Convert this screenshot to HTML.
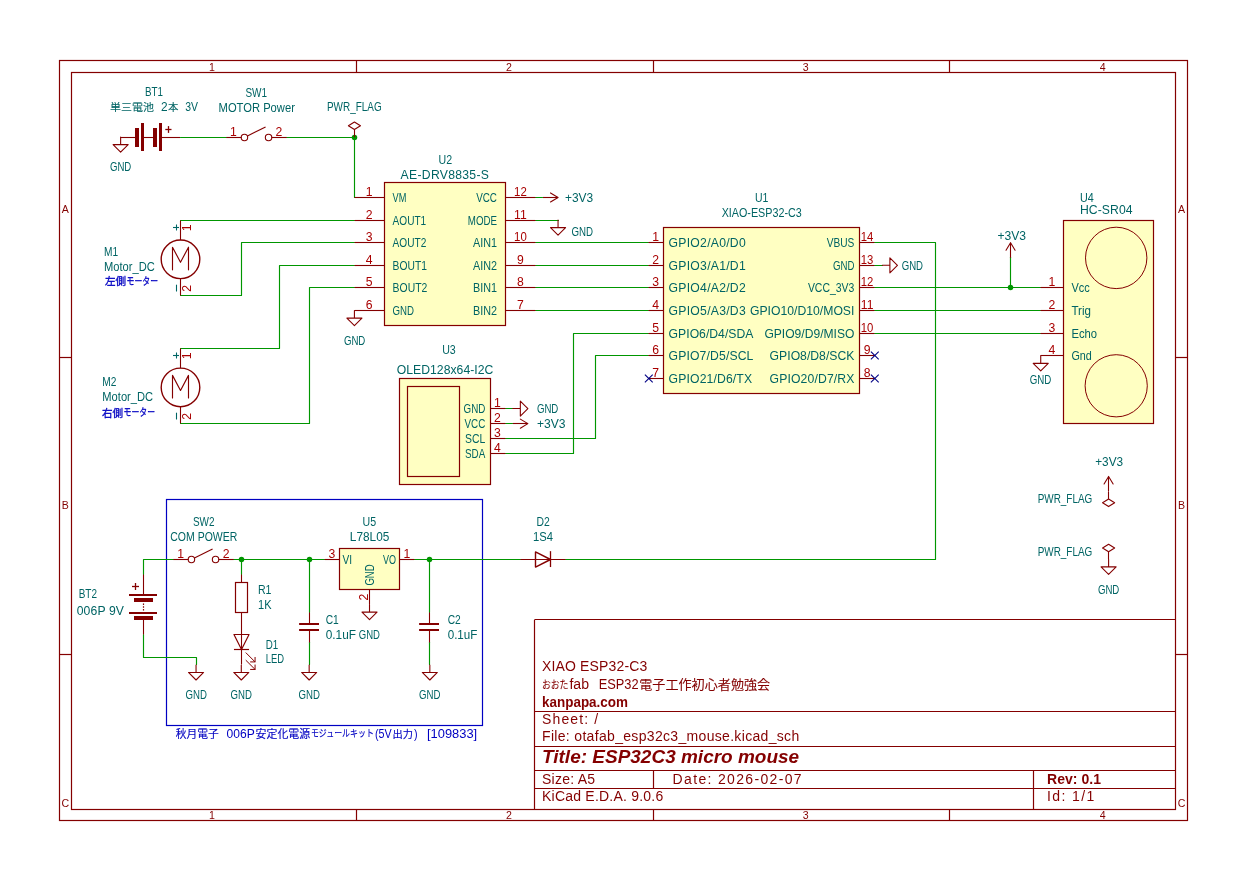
<!DOCTYPE html>
<html lang="ja">
<head>
<meta charset="utf-8">
<title>ESP32C3 micro mouse</title>
<style>
html,body{margin:0;padding:0;background:#fff;}
body{width:1245px;height:882px;overflow:hidden;}
svg{display:block;will-change:transform;}
svg text{font-family:"Liberation Sans","Noto Sans CJK JP",sans-serif;white-space:pre;}
</style>
</head>
<body>
<svg width="1245" height="882" viewBox="0 0 1245 882">
<rect x="59.50" y="60.50" width="1128.00" height="760.00" fill="none" stroke="#840000" stroke-width="1.2"/>
<rect x="71.50" y="72.50" width="1104.00" height="737.00" fill="none" stroke="#840000" stroke-width="1.2"/>
<line x1="356.50" y1="60.40" x2="356.50" y2="72.30" stroke="#840000" stroke-width="1.2" />
<line x1="356.50" y1="809.00" x2="356.50" y2="820.20" stroke="#840000" stroke-width="1.2" />
<line x1="653.50" y1="60.40" x2="653.50" y2="72.30" stroke="#840000" stroke-width="1.2" />
<line x1="653.50" y1="809.00" x2="653.50" y2="820.20" stroke="#840000" stroke-width="1.2" />
<line x1="949.50" y1="60.40" x2="949.50" y2="72.30" stroke="#840000" stroke-width="1.2" />
<line x1="949.50" y1="809.00" x2="949.50" y2="820.20" stroke="#840000" stroke-width="1.2" />
<line x1="59.40" y1="357.50" x2="71.30" y2="357.50" stroke="#840000" stroke-width="1.2" />
<line x1="1175.40" y1="357.50" x2="1187.70" y2="357.50" stroke="#840000" stroke-width="1.2" />
<line x1="59.40" y1="654.50" x2="71.30" y2="654.50" stroke="#840000" stroke-width="1.2" />
<line x1="1175.40" y1="654.50" x2="1187.70" y2="654.50" stroke="#840000" stroke-width="1.2" />
<text x="212.00" y="70.55" fill="#840000" font-size="10.6" text-anchor="middle">1</text>
<text x="212.00" y="818.75" fill="#840000" font-size="10.6" text-anchor="middle">1</text>
<text x="509.00" y="70.55" fill="#840000" font-size="10.6" text-anchor="middle">2</text>
<text x="509.00" y="818.75" fill="#840000" font-size="10.6" text-anchor="middle">2</text>
<text x="805.70" y="70.55" fill="#840000" font-size="10.6" text-anchor="middle">3</text>
<text x="805.70" y="818.75" fill="#840000" font-size="10.6" text-anchor="middle">3</text>
<text x="1102.70" y="70.55" fill="#840000" font-size="10.6" text-anchor="middle">4</text>
<text x="1102.70" y="818.75" fill="#840000" font-size="10.6" text-anchor="middle">4</text>
<text x="65.40" y="212.65" fill="#840000" font-size="10.6" text-anchor="middle">A</text>
<text x="1181.60" y="212.65" fill="#840000" font-size="10.6" text-anchor="middle">A</text>
<text x="65.40" y="509.35" fill="#840000" font-size="10.6" text-anchor="middle">B</text>
<text x="1181.60" y="509.35" fill="#840000" font-size="10.6" text-anchor="middle">B</text>
<text x="65.40" y="806.65" fill="#840000" font-size="10.6" text-anchor="middle">C</text>
<text x="1181.60" y="806.65" fill="#840000" font-size="10.6" text-anchor="middle">C</text>
<line x1="534.50" y1="619.50" x2="1175.40" y2="619.50" stroke="#840000" stroke-width="1.2" />
<line x1="534.50" y1="619.80" x2="534.50" y2="809.00" stroke="#840000" stroke-width="1.2" />
<line x1="534.50" y1="711.50" x2="1175.40" y2="711.50" stroke="#840000" stroke-width="1.2" />
<line x1="534.50" y1="746.50" x2="1175.40" y2="746.50" stroke="#840000" stroke-width="1.2" />
<line x1="534.50" y1="770.50" x2="1175.40" y2="770.50" stroke="#840000" stroke-width="1.2" />
<line x1="534.50" y1="788.50" x2="1175.40" y2="788.50" stroke="#840000" stroke-width="1.2" />
<line x1="653.50" y1="770.20" x2="653.50" y2="788.00" stroke="#840000" stroke-width="1.2" />
<line x1="1033.50" y1="770.20" x2="1033.50" y2="809.00" stroke="#840000" stroke-width="1.2" />
<text x="542.00" y="671.22" fill="#840000" font-size="14.0" textLength="105.30" lengthAdjust="spacing">XIAO ESP32-C3</text>
<text fill="#840000" font-size="14.0"><tspan x="542.00" y="688.80" font-size="11.4" textLength="26.40" lengthAdjust="spacingAndGlyphs" stroke="#840000" stroke-width="0.1">おおた</tspan><tspan x="569.40" y="688.60" font-size="14.0" textLength="19.60" lengthAdjust="spacingAndGlyphs">fab</tspan><tspan x="598.70" y="688.60" font-size="14.0" textLength="39.90" lengthAdjust="spacingAndGlyphs">ESP32</tspan><tspan x="639.20" y="688.60" font-size="12.6" textLength="131.00" lengthAdjust="spacingAndGlyphs" stroke="#840000" stroke-width="0.1">電子工作初心者勉強会</tspan></text>
<text x="542.00" y="706.60" fill="#840000" font-size="14.0" textLength="86.00" lengthAdjust="spacingAndGlyphs" font-weight="bold">kanpapa.com</text>
<text x="542.00" y="724.40" fill="#840000" font-size="14.0" textLength="56.20" lengthAdjust="spacing">Sheet: /</text>
<text x="542.00" y="740.50" fill="#840000" font-size="14.0" textLength="257.20" lengthAdjust="spacing">File: otafab_esp32c3_mouse.kicad_sch</text>
<text x="542.00" y="762.90" fill="#840000" font-size="19.0" textLength="257.20" lengthAdjust="spacingAndGlyphs" font-weight="bold" font-style="italic">Title: ESP32C3 micro mouse</text>
<text x="542.00" y="783.80" fill="#840000" font-size="14.0" textLength="53.00" lengthAdjust="spacing">Size: A5</text>
<text x="672.60" y="783.80" fill="#840000" font-size="14.0" textLength="129.00" lengthAdjust="spacing">Date: 2026-02-07</text>
<text x="542.00" y="800.70" fill="#840000" font-size="14.0" textLength="121.20" lengthAdjust="spacing">KiCad E.D.A. 9.0.6</text>
<text x="1047.00" y="783.80" fill="#840000" font-size="14.0" textLength="54.00" lengthAdjust="spacing" font-weight="bold">Rev: 0.1</text>
<text x="1047.00" y="800.70" fill="#840000" font-size="14.0" textLength="47.30" lengthAdjust="spacing">Id: 1/1</text>
<rect x="166.50" y="499.50" width="316.00" height="226.00" fill="none" stroke="#0000c2" stroke-width="1.2"/>
<text fill="#0000c2" font-size="12.2"><tspan x="175.80" y="737.60" font-size="10.8" textLength="43.00" lengthAdjust="spacingAndGlyphs" stroke="#0000c2" stroke-width="0.15">秋月電子</tspan><tspan x="226.60" y="737.60" font-size="12.2" textLength="28.20" lengthAdjust="spacingAndGlyphs">006P</tspan><tspan x="255.60" y="737.60" font-size="10.8" textLength="54.50" lengthAdjust="spacingAndGlyphs" stroke="#0000c2" stroke-width="0.15">安定化電源</tspan><tspan x="310.90" y="737.40" font-size="10.0" textLength="63.00" lengthAdjust="spacingAndGlyphs" stroke="#0000c2" stroke-width="0.15">モジュールキット</tspan><tspan x="374.90" y="737.60" font-size="12.2" textLength="16.70" lengthAdjust="spacingAndGlyphs">(5V</tspan><tspan x="392.40" y="737.60" font-size="10.6" textLength="20.50" lengthAdjust="spacingAndGlyphs" stroke="#0000c2" stroke-width="0.15">出力</tspan><tspan x="414.00" y="737.60" font-size="12.2" textLength="3.60" lengthAdjust="spacingAndGlyphs">)</tspan><tspan x="427.00" y="737.60" font-size="12.2" textLength="50.20" lengthAdjust="spacingAndGlyphs">[109833]</tspan></text>
<polyline points="180.50,137.50 226.50,137.50" fill="none" stroke="#009600" stroke-width="1.15" stroke-linejoin="round" stroke-linecap="round" />
<polyline points="286.50,137.50 354.50,137.50 354.50,197.50" fill="none" stroke="#009600" stroke-width="1.15" stroke-linejoin="round" stroke-linecap="round" />
<circle cx="354.50" cy="137.50" r="2.75" fill="#009600"/>
<polyline points="180.50,220.50 354.50,220.50" fill="none" stroke="#009600" stroke-width="1.15" stroke-linejoin="round" stroke-linecap="round" />
<polyline points="180.50,295.50 241.50,295.50 241.50,242.50 354.50,242.50" fill="none" stroke="#009600" stroke-width="1.15" stroke-linejoin="round" stroke-linecap="round" />
<polyline points="180.50,348.50 279.50,348.50 279.50,265.50 354.50,265.50" fill="none" stroke="#009600" stroke-width="1.15" stroke-linejoin="round" stroke-linecap="round" />
<polyline points="180.50,423.50 309.50,423.50 309.50,287.50 354.50,287.50" fill="none" stroke="#009600" stroke-width="1.15" stroke-linejoin="round" stroke-linecap="round" />
<polyline points="535.50,197.50 542.50,197.50" fill="none" stroke="#009600" stroke-width="1.15" stroke-linejoin="round" stroke-linecap="round" />
<polyline points="535.50,220.50 558.50,220.50" fill="none" stroke="#009600" stroke-width="1.15" stroke-linejoin="round" stroke-linecap="round" />
<polyline points="535.50,242.50 648.50,242.50" fill="none" stroke="#009600" stroke-width="1.15" stroke-linejoin="round" stroke-linecap="round" />
<polyline points="535.50,265.50 648.50,265.50" fill="none" stroke="#009600" stroke-width="1.15" stroke-linejoin="round" stroke-linecap="round" />
<polyline points="535.50,287.50 648.50,287.50" fill="none" stroke="#009600" stroke-width="1.15" stroke-linejoin="round" stroke-linecap="round" />
<polyline points="535.50,310.50 648.50,310.50" fill="none" stroke="#009600" stroke-width="1.15" stroke-linejoin="round" stroke-linecap="round" />
<polyline points="648.50,333.50 573.50,333.50 573.50,453.50 505.50,453.50" fill="none" stroke="#009600" stroke-width="1.15" stroke-linejoin="round" stroke-linecap="round" />
<polyline points="648.50,355.50 595.50,355.50 595.50,438.50 505.50,438.50" fill="none" stroke="#009600" stroke-width="1.15" stroke-linejoin="round" stroke-linecap="round" />
<polyline points="505.50,408.50 512.50,408.50" fill="none" stroke="#009600" stroke-width="1.15" stroke-linejoin="round" stroke-linecap="round" />
<polyline points="505.50,423.50 512.50,423.50" fill="none" stroke="#009600" stroke-width="1.15" stroke-linejoin="round" stroke-linecap="round" />
<polyline points="874.50,242.50 935.50,242.50 935.50,559.50 565.50,559.50" fill="none" stroke="#009600" stroke-width="1.15" stroke-linejoin="round" stroke-linecap="round" />
<polyline points="874.50,265.50 882.50,265.50" fill="none" stroke="#009600" stroke-width="1.15" stroke-linejoin="round" stroke-linecap="round" />
<polyline points="874.50,287.50 1040.50,287.50" fill="none" stroke="#009600" stroke-width="1.15" stroke-linejoin="round" stroke-linecap="round" />
<polyline points="874.50,310.50 1040.50,310.50" fill="none" stroke="#009600" stroke-width="1.15" stroke-linejoin="round" stroke-linecap="round" />
<polyline points="874.50,333.50 1040.50,333.50" fill="none" stroke="#009600" stroke-width="1.15" stroke-linejoin="round" stroke-linecap="round" />
<polyline points="1010.50,287.50 1010.50,257.50" fill="none" stroke="#009600" stroke-width="1.15" stroke-linejoin="round" stroke-linecap="round" />
<circle cx="1010.50" cy="287.50" r="2.75" fill="#009600"/>
<polyline points="143.50,574.50 143.50,559.50 173.50,559.50" fill="none" stroke="#009600" stroke-width="1.15" stroke-linejoin="round" stroke-linecap="round" />
<polyline points="233.50,559.50 324.50,559.50" fill="none" stroke="#009600" stroke-width="1.15" stroke-linejoin="round" stroke-linecap="round" />
<polyline points="241.50,559.50 241.50,574.50" fill="none" stroke="#009600" stroke-width="1.15" stroke-linejoin="round" stroke-linecap="round" />
<circle cx="241.50" cy="559.50" r="2.75" fill="#009600"/>
<polyline points="309.50,559.50 309.50,612.50" fill="none" stroke="#009600" stroke-width="1.15" stroke-linejoin="round" stroke-linecap="round" />
<circle cx="309.50" cy="559.50" r="2.75" fill="#009600"/>
<polyline points="309.50,642.50 309.50,664.50" fill="none" stroke="#009600" stroke-width="1.15" stroke-linejoin="round" stroke-linecap="round" />
<polyline points="414.50,559.50 520.50,559.50" fill="none" stroke="#009600" stroke-width="1.15" stroke-linejoin="round" stroke-linecap="round" />
<polyline points="429.50,559.50 429.50,612.50" fill="none" stroke="#009600" stroke-width="1.15" stroke-linejoin="round" stroke-linecap="round" />
<circle cx="429.50" cy="559.50" r="2.75" fill="#009600"/>
<polyline points="429.50,642.50 429.50,664.50" fill="none" stroke="#009600" stroke-width="1.15" stroke-linejoin="round" stroke-linecap="round" />
<polyline points="143.50,634.50 143.50,657.50 196.50,657.50 196.50,664.50" fill="none" stroke="#009600" stroke-width="1.15" stroke-linejoin="round" stroke-linecap="round" />
<line x1="120.50" y1="137.50" x2="135.50" y2="137.50" stroke="#840000" stroke-width="1.1" />
<line x1="142.50" y1="137.50" x2="154.00" y2="137.50" stroke="#840000" stroke-width="1.1" />
<line x1="160.50" y1="137.50" x2="180.00" y2="137.50" stroke="#840000" stroke-width="1.1" />
<line x1="137.00" y1="128.00" x2="137.00" y2="147.00" stroke="#840000" stroke-width="4.0" />
<line x1="155.00" y1="128.00" x2="155.00" y2="147.00" stroke="#840000" stroke-width="4.0" />
<line x1="142.50" y1="123.00" x2="142.50" y2="151.00" stroke="#840000" stroke-width="3.0" />
<line x1="160.50" y1="123.00" x2="160.50" y2="151.00" stroke="#840000" stroke-width="3.0" />
<line x1="165.30" y1="129.50" x2="171.50" y2="129.50" stroke="#840000" stroke-width="1.3" />
<line x1="168.50" y1="126.10" x2="168.50" y2="132.90" stroke="#840000" stroke-width="1.3" />
<polyline points="120.63,137.13 120.63,144.67 128.17,144.67 120.63,152.21 113.09,144.67 120.63,144.67" fill="none" stroke="#840000" stroke-width="1.1" stroke-linejoin="round" stroke-linecap="round" />
<text x="145.00" y="96.20" fill="#006464" font-size="12.2" textLength="18.00" lengthAdjust="spacingAndGlyphs">BT1</text>
<text fill="#006464" font-size="12.2"><tspan x="110.00" y="110.90" font-size="10.6" textLength="44.00" lengthAdjust="spacingAndGlyphs" stroke="#006464" stroke-width="0.1">単三電池</tspan><tspan x="161.10" y="110.90" font-size="12.2" textLength="6.60" lengthAdjust="spacingAndGlyphs">2</tspan><tspan x="167.90" y="110.90" font-size="10.4" textLength="10.40" lengthAdjust="spacingAndGlyphs" stroke="#006464" stroke-width="0.1">本</tspan><tspan x="185.20" y="110.90" font-size="12.2" textLength="12.80" lengthAdjust="spacingAndGlyphs">3V</tspan></text>
<text x="110.00" y="171.40" fill="#006464" font-size="12.2" textLength="21.30" lengthAdjust="spacingAndGlyphs">GND</text>
<line x1="226.34" y1="137.50" x2="241.42" y2="137.50" stroke="#840000" stroke-width="1.1" />
<line x1="286.66" y1="137.50" x2="271.58" y2="137.50" stroke="#840000" stroke-width="1.1" />
<circle cx="244.44" cy="137.50" r="3.22" fill="none" stroke="#840000" stroke-width="1.1"/>
<circle cx="268.56" cy="137.50" r="3.22" fill="none" stroke="#840000" stroke-width="1.1"/>
<line x1="247.45" y1="135.99" x2="265.55" y2="126.94" stroke="#840000" stroke-width="1.1" />
<text x="233.30" y="136.00" fill="#a90000" font-size="12.2" text-anchor="middle">1</text>
<text x="278.90" y="136.00" fill="#a90000" font-size="12.2" text-anchor="middle">2</text>
<text x="245.40" y="97.20" fill="#006464" font-size="12.2" textLength="21.60" lengthAdjust="spacingAndGlyphs">SW1</text>
<text x="218.60" y="112.30" fill="#006464" font-size="12.2" textLength="76.30" lengthAdjust="spacingAndGlyphs">MOTOR Power</text>
<line x1="354.50" y1="137.13" x2="354.50" y2="129.59" stroke="#840000" stroke-width="1.1" />
<polygon points="354.42,129.59 348.39,125.82 354.42,122.05 360.46,125.82" fill="none" stroke="#840000" stroke-width="1.1" stroke-linejoin="round" stroke-linecap="round" />
<text x="327.00" y="111.20" fill="#006464" font-size="12.2" textLength="54.60" lengthAdjust="spacingAndGlyphs">PWR_FLAG</text>
<rect x="384.50" y="182.50" width="121.00" height="143.00" fill="#ffffc2" stroke="#840000" stroke-width="1.2"/>
<line x1="354.50" y1="197.50" x2="384.40" y2="197.50" stroke="#840000" stroke-width="1.1" />
<line x1="505.70" y1="197.50" x2="535.50" y2="197.50" stroke="#840000" stroke-width="1.1" />
<text x="392.60" y="201.70" fill="#006464" font-size="12.2" textLength="13.80" lengthAdjust="spacingAndGlyphs">VM</text>
<text x="497.00" y="201.70" fill="#006464" font-size="12.2" text-anchor="end" textLength="20.80" lengthAdjust="spacingAndGlyphs">VCC</text>
<text x="369.20" y="196.40" fill="#a90000" font-size="12.2" text-anchor="middle">1</text>
<text x="520.40" y="196.40" fill="#a90000" font-size="12.2" text-anchor="middle" textLength="12.70" lengthAdjust="spacingAndGlyphs">12</text>
<line x1="354.50" y1="220.50" x2="384.40" y2="220.50" stroke="#840000" stroke-width="1.1" />
<line x1="505.70" y1="220.50" x2="535.50" y2="220.50" stroke="#840000" stroke-width="1.1" />
<text x="392.60" y="224.70" fill="#006464" font-size="12.2" textLength="33.60" lengthAdjust="spacingAndGlyphs">AOUT1</text>
<text x="497.00" y="224.70" fill="#006464" font-size="12.2" text-anchor="end" textLength="29.20" lengthAdjust="spacingAndGlyphs">MODE</text>
<text x="369.20" y="219.40" fill="#a90000" font-size="12.2" text-anchor="middle">2</text>
<text x="520.40" y="219.40" fill="#a90000" font-size="12.2" text-anchor="middle" textLength="12.70" lengthAdjust="spacing">11</text>
<line x1="354.50" y1="242.50" x2="384.40" y2="242.50" stroke="#840000" stroke-width="1.1" />
<line x1="505.70" y1="242.50" x2="535.50" y2="242.50" stroke="#840000" stroke-width="1.1" />
<text x="392.60" y="246.70" fill="#006464" font-size="12.2" textLength="33.70" lengthAdjust="spacingAndGlyphs">AOUT2</text>
<text x="497.00" y="246.70" fill="#006464" font-size="12.2" text-anchor="end" textLength="24.00" lengthAdjust="spacingAndGlyphs">AIN1</text>
<text x="369.20" y="241.40" fill="#a90000" font-size="12.2" text-anchor="middle">3</text>
<text x="520.40" y="241.40" fill="#a90000" font-size="12.2" text-anchor="middle" textLength="12.70" lengthAdjust="spacingAndGlyphs">10</text>
<line x1="354.50" y1="265.50" x2="384.40" y2="265.50" stroke="#840000" stroke-width="1.1" />
<line x1="505.70" y1="265.50" x2="535.50" y2="265.50" stroke="#840000" stroke-width="1.1" />
<text x="392.60" y="269.70" fill="#006464" font-size="12.2" textLength="34.30" lengthAdjust="spacingAndGlyphs">BOUT1</text>
<text x="497.00" y="269.70" fill="#006464" font-size="12.2" text-anchor="end" textLength="24.00" lengthAdjust="spacingAndGlyphs">AIN2</text>
<text x="369.20" y="264.40" fill="#a90000" font-size="12.2" text-anchor="middle">4</text>
<text x="520.40" y="264.40" fill="#a90000" font-size="12.2" text-anchor="middle">9</text>
<line x1="354.50" y1="287.50" x2="384.40" y2="287.50" stroke="#840000" stroke-width="1.1" />
<line x1="505.70" y1="287.50" x2="535.50" y2="287.50" stroke="#840000" stroke-width="1.1" />
<text x="392.60" y="291.70" fill="#006464" font-size="12.2" textLength="34.70" lengthAdjust="spacingAndGlyphs">BOUT2</text>
<text x="497.00" y="291.70" fill="#006464" font-size="12.2" text-anchor="end" textLength="24.00" lengthAdjust="spacingAndGlyphs">BIN1</text>
<text x="369.20" y="286.40" fill="#a90000" font-size="12.2" text-anchor="middle">5</text>
<text x="520.40" y="286.40" fill="#a90000" font-size="12.2" text-anchor="middle">8</text>
<line x1="354.50" y1="310.50" x2="384.40" y2="310.50" stroke="#840000" stroke-width="1.1" />
<line x1="505.70" y1="310.50" x2="535.50" y2="310.50" stroke="#840000" stroke-width="1.1" />
<text x="392.60" y="314.70" fill="#006464" font-size="12.2" textLength="21.50" lengthAdjust="spacingAndGlyphs">GND</text>
<text x="497.00" y="314.70" fill="#006464" font-size="12.2" text-anchor="end" textLength="24.00" lengthAdjust="spacingAndGlyphs">BIN2</text>
<text x="369.20" y="309.40" fill="#a90000" font-size="12.2" text-anchor="middle">6</text>
<text x="520.40" y="309.40" fill="#a90000" font-size="12.2" text-anchor="middle">7</text>
<text x="438.60" y="164.10" fill="#006464" font-size="12.2" textLength="13.60" lengthAdjust="spacingAndGlyphs">U2</text>
<text x="400.60" y="178.80" fill="#006464" font-size="12.2" textLength="88.30" lengthAdjust="spacing">AE-DRV8835-S</text>
<polyline points="354.42,310.55 354.42,318.09 361.96,318.09 354.42,325.63 346.88,318.09 354.42,318.09" fill="none" stroke="#840000" stroke-width="1.1" stroke-linejoin="round" stroke-linecap="round" />
<text x="354.60" y="344.80" fill="#006464" font-size="12.2" text-anchor="middle" textLength="21.40" lengthAdjust="spacingAndGlyphs">GND</text>
<line x1="542.97" y1="197.50" x2="558.05" y2="197.50" stroke="#840000" stroke-width="1.1" />
<polyline points="550.51,192.93 558.05,197.45 550.51,201.97" fill="none" stroke="#840000" stroke-width="1.1" stroke-linejoin="round" stroke-linecap="round" />
<text x="565.00" y="201.80" fill="#006464" font-size="12.2" textLength="28.20" lengthAdjust="spacingAndGlyphs">+3V3</text>
<polyline points="558.05,220.07 558.05,227.61 565.59,227.61 558.05,235.15 550.51,227.61 558.05,227.61" fill="none" stroke="#840000" stroke-width="1.1" stroke-linejoin="round" stroke-linecap="round" />
<text x="571.40" y="236.10" fill="#006464" font-size="12.2" textLength="21.60" lengthAdjust="spacingAndGlyphs">GND</text>
<line x1="180.50" y1="220.50" x2="180.50" y2="239.98" stroke="#840000" stroke-width="1.1" />
<line x1="180.50" y1="278.58" x2="180.50" y2="295.50" stroke="#840000" stroke-width="1.1" />
<circle cx="180.50" cy="259.28" r="19.30" fill="none" stroke="#840000" stroke-width="1.4"/>
<polyline points="172.50,269.83 172.50,247.21 180.50,262.29 188.50,247.21 188.50,269.83" fill="none" stroke="#840000" stroke-width="1.15" stroke-linejoin="round" stroke-linecap="round" />
<line x1="173.00" y1="227.50" x2="179.00" y2="227.50" stroke="#006464" stroke-width="1.1" />
<line x1="176.50" y1="224.50" x2="176.50" y2="230.50" stroke="#006464" stroke-width="1.1" />
<line x1="176.50" y1="284.70" x2="176.50" y2="291.50" stroke="#006464" stroke-width="1.1" />
<text x="186.40" y="232.00" fill="#a90000" font-size="12.2" text-anchor="middle" transform="rotate(-90 186.40 227.80)">1</text>
<text x="186.40" y="292.50" fill="#a90000" font-size="12.2" text-anchor="middle" transform="rotate(-90 186.40 288.30)">2</text>
<text x="104.00" y="256.00" fill="#006464" font-size="12.2" textLength="14.10" lengthAdjust="spacingAndGlyphs">M1</text>
<text x="104.00" y="270.80" fill="#006464" font-size="12.2" textLength="50.80" lengthAdjust="spacingAndGlyphs">Motor_DC</text>
<text fill="#0000c2" font-size="12.2"><tspan x="105.00" y="285.20" font-size="10.4" textLength="21.10" lengthAdjust="spacingAndGlyphs" stroke="#0000c2" stroke-width="0.3">左側</tspan><tspan x="126.60" y="285.00" font-size="10.0" textLength="31.40" lengthAdjust="spacingAndGlyphs" stroke="#0000c2" stroke-width="0.3">モーター</tspan></text>
<line x1="180.50" y1="348.50" x2="180.50" y2="368.16" stroke="#840000" stroke-width="1.1" />
<line x1="180.50" y1="406.76" x2="180.50" y2="423.50" stroke="#840000" stroke-width="1.1" />
<circle cx="180.50" cy="387.46" r="19.30" fill="none" stroke="#840000" stroke-width="1.4"/>
<polyline points="172.50,398.01 172.50,375.39 180.50,390.47 188.50,375.39 188.50,398.01" fill="none" stroke="#840000" stroke-width="1.15" stroke-linejoin="round" stroke-linecap="round" />
<line x1="173.00" y1="355.50" x2="179.00" y2="355.50" stroke="#006464" stroke-width="1.1" />
<line x1="176.50" y1="352.50" x2="176.50" y2="358.50" stroke="#006464" stroke-width="1.1" />
<line x1="176.50" y1="412.70" x2="176.50" y2="419.50" stroke="#006464" stroke-width="1.1" />
<text x="186.40" y="360.00" fill="#a90000" font-size="12.2" text-anchor="middle" transform="rotate(-90 186.40 355.80)">1</text>
<text x="186.40" y="420.50" fill="#a90000" font-size="12.2" text-anchor="middle" transform="rotate(-90 186.40 416.30)">2</text>
<text x="102.30" y="386.00" fill="#006464" font-size="12.2" textLength="14.10" lengthAdjust="spacingAndGlyphs">M2</text>
<text x="102.30" y="400.90" fill="#006464" font-size="12.2" textLength="50.80" lengthAdjust="spacingAndGlyphs">Motor_DC</text>
<text fill="#0000c2" font-size="12.2"><tspan x="102.00" y="416.50" font-size="10.4" textLength="21.10" lengthAdjust="spacingAndGlyphs" stroke="#0000c2" stroke-width="0.3">右側</tspan><tspan x="123.60" y="416.30" font-size="10.0" textLength="31.40" lengthAdjust="spacingAndGlyphs" stroke="#0000c2" stroke-width="0.3">モーター</tspan></text>
<rect x="399.50" y="378.50" width="91.00" height="106.00" fill="#ffffc2" stroke="#840000" stroke-width="1.2"/>
<rect x="407.50" y="386.50" width="52.00" height="90.00" fill="none" stroke="#840000" stroke-width="1.2"/>
<line x1="490.70" y1="408.50" x2="505.50" y2="408.50" stroke="#840000" stroke-width="1.1" />
<text x="485.30" y="412.70" fill="#006464" font-size="12.2" text-anchor="end" textLength="21.80" lengthAdjust="spacingAndGlyphs">GND</text>
<text x="497.50" y="407.40" fill="#a90000" font-size="12.2" text-anchor="middle">1</text>
<line x1="490.70" y1="423.50" x2="505.50" y2="423.50" stroke="#840000" stroke-width="1.1" />
<text x="485.30" y="427.70" fill="#006464" font-size="12.2" text-anchor="end" textLength="20.80" lengthAdjust="spacingAndGlyphs">VCC</text>
<text x="497.50" y="422.40" fill="#a90000" font-size="12.2" text-anchor="middle">2</text>
<line x1="490.70" y1="438.50" x2="505.50" y2="438.50" stroke="#840000" stroke-width="1.1" />
<text x="485.30" y="442.70" fill="#006464" font-size="12.2" text-anchor="end" textLength="20.30" lengthAdjust="spacingAndGlyphs">SCL</text>
<text x="497.50" y="437.40" fill="#a90000" font-size="12.2" text-anchor="middle">3</text>
<line x1="490.70" y1="453.50" x2="505.50" y2="453.50" stroke="#840000" stroke-width="1.1" />
<text x="485.30" y="457.70" fill="#006464" font-size="12.2" text-anchor="end" textLength="20.30" lengthAdjust="spacingAndGlyphs">SDA</text>
<text x="497.50" y="452.40" fill="#a90000" font-size="12.2" text-anchor="middle">4</text>
<text x="442.20" y="354.10" fill="#006464" font-size="12.2" textLength="13.60" lengthAdjust="spacingAndGlyphs">U3</text>
<text x="396.70" y="373.70" fill="#006464" font-size="12.2" textLength="96.70" lengthAdjust="spacing">OLED128x64-I2C</text>
<polyline points="512.80,408.57 520.34,408.57 520.34,416.11 527.88,408.57 520.34,401.03 520.34,408.57" fill="none" stroke="#840000" stroke-width="1.1" stroke-linejoin="round" stroke-linecap="round" />
<line x1="512.80" y1="423.50" x2="527.88" y2="423.50" stroke="#840000" stroke-width="1.1" />
<polyline points="520.34,419.13 527.88,423.65 520.34,428.17" fill="none" stroke="#840000" stroke-width="1.1" stroke-linejoin="round" stroke-linecap="round" />
<text x="536.90" y="412.80" fill="#006464" font-size="12.2" textLength="21.40" lengthAdjust="spacingAndGlyphs">GND</text>
<text x="536.90" y="428.10" fill="#006464" font-size="12.2" textLength="28.60" lengthAdjust="spacingAndGlyphs">+3V3</text>
<rect x="663.50" y="227.50" width="196.00" height="166.00" fill="#ffffc2" stroke="#840000" stroke-width="1.2"/>
<line x1="648.50" y1="242.50" x2="663.40" y2="242.50" stroke="#840000" stroke-width="1.1" />
<line x1="859.60" y1="242.50" x2="874.50" y2="242.50" stroke="#840000" stroke-width="1.1" />
<text x="668.60" y="246.70" fill="#006464" font-size="12.2" textLength="77.10" lengthAdjust="spacing">GPIO2/A0/D0</text>
<text x="854.40" y="246.70" fill="#006464" font-size="12.2" text-anchor="end" textLength="27.70" lengthAdjust="spacingAndGlyphs">VBUS</text>
<text x="655.70" y="241.40" fill="#a90000" font-size="12.2" text-anchor="middle">1</text>
<text x="867.10" y="241.40" fill="#a90000" font-size="12.2" text-anchor="middle" textLength="12.60" lengthAdjust="spacingAndGlyphs">14</text>
<line x1="648.50" y1="265.50" x2="663.40" y2="265.50" stroke="#840000" stroke-width="1.1" />
<line x1="859.60" y1="265.50" x2="874.50" y2="265.50" stroke="#840000" stroke-width="1.1" />
<text x="668.60" y="269.70" fill="#006464" font-size="12.2" textLength="77.10" lengthAdjust="spacing">GPIO3/A1/D1</text>
<text x="854.40" y="269.70" fill="#006464" font-size="12.2" text-anchor="end" textLength="21.40" lengthAdjust="spacingAndGlyphs">GND</text>
<text x="655.70" y="264.40" fill="#a90000" font-size="12.2" text-anchor="middle">2</text>
<text x="867.10" y="264.40" fill="#a90000" font-size="12.2" text-anchor="middle" textLength="12.60" lengthAdjust="spacingAndGlyphs">13</text>
<line x1="648.50" y1="287.50" x2="663.40" y2="287.50" stroke="#840000" stroke-width="1.1" />
<line x1="859.60" y1="287.50" x2="874.50" y2="287.50" stroke="#840000" stroke-width="1.1" />
<text x="668.60" y="291.70" fill="#006464" font-size="12.2" textLength="77.10" lengthAdjust="spacing">GPIO4/A2/D2</text>
<text x="854.40" y="291.70" fill="#006464" font-size="12.2" text-anchor="end" textLength="46.50" lengthAdjust="spacingAndGlyphs">VCC_3V3</text>
<text x="655.70" y="286.40" fill="#a90000" font-size="12.2" text-anchor="middle">3</text>
<text x="867.10" y="286.40" fill="#a90000" font-size="12.2" text-anchor="middle" textLength="12.60" lengthAdjust="spacingAndGlyphs">12</text>
<line x1="648.50" y1="310.50" x2="663.40" y2="310.50" stroke="#840000" stroke-width="1.1" />
<line x1="859.60" y1="310.50" x2="874.50" y2="310.50" stroke="#840000" stroke-width="1.1" />
<text x="668.60" y="314.70" fill="#006464" font-size="12.2" textLength="77.10" lengthAdjust="spacing">GPIO5/A3/D3</text>
<text x="854.40" y="314.70" fill="#006464" font-size="12.2" text-anchor="end" textLength="104.40" lengthAdjust="spacingAndGlyphs">GPIO10/D10/MOSI</text>
<text x="655.70" y="309.40" fill="#a90000" font-size="12.2" text-anchor="middle">4</text>
<text x="867.10" y="309.40" fill="#a90000" font-size="12.2" text-anchor="middle" textLength="12.60" lengthAdjust="spacingAndGlyphs">11</text>
<line x1="648.50" y1="333.50" x2="663.40" y2="333.50" stroke="#840000" stroke-width="1.1" />
<line x1="859.60" y1="333.50" x2="874.50" y2="333.50" stroke="#840000" stroke-width="1.1" />
<text x="668.60" y="337.70" fill="#006464" font-size="12.2" textLength="84.80" lengthAdjust="spacing">GPIO6/D4/SDA</text>
<text x="854.40" y="337.70" fill="#006464" font-size="12.2" text-anchor="end" textLength="90.00" lengthAdjust="spacingAndGlyphs">GPIO9/D9/MISO</text>
<text x="655.70" y="332.40" fill="#a90000" font-size="12.2" text-anchor="middle">5</text>
<text x="867.10" y="332.40" fill="#a90000" font-size="12.2" text-anchor="middle" textLength="12.60" lengthAdjust="spacingAndGlyphs">10</text>
<line x1="648.50" y1="355.50" x2="663.40" y2="355.50" stroke="#840000" stroke-width="1.1" />
<line x1="859.60" y1="355.50" x2="874.50" y2="355.50" stroke="#840000" stroke-width="1.1" />
<text x="668.60" y="359.70" fill="#006464" font-size="12.2" textLength="84.80" lengthAdjust="spacing">GPIO7/D5/SCL</text>
<text x="854.40" y="359.70" fill="#006464" font-size="12.2" text-anchor="end" textLength="84.80" lengthAdjust="spacing">GPIO8/D8/SCK</text>
<text x="655.70" y="354.40" fill="#a90000" font-size="12.2" text-anchor="middle">6</text>
<text x="867.10" y="354.40" fill="#a90000" font-size="12.2" text-anchor="middle">9</text>
<line x1="648.50" y1="378.50" x2="663.40" y2="378.50" stroke="#840000" stroke-width="1.1" />
<line x1="859.60" y1="378.50" x2="874.50" y2="378.50" stroke="#840000" stroke-width="1.1" />
<text x="668.60" y="382.70" fill="#006464" font-size="12.2" textLength="83.50" lengthAdjust="spacing">GPIO21/D6/TX</text>
<text x="854.40" y="382.70" fill="#006464" font-size="12.2" text-anchor="end" textLength="84.80" lengthAdjust="spacing">GPIO20/D7/RX</text>
<text x="655.70" y="377.40" fill="#a90000" font-size="12.2" text-anchor="middle">7</text>
<text x="867.10" y="377.40" fill="#a90000" font-size="12.2" text-anchor="middle">8</text>
<line x1="644.90" y1="374.60" x2="652.70" y2="382.40" stroke="#000084" stroke-width="1.1" />
<line x1="644.90" y1="382.40" x2="652.70" y2="374.60" stroke="#000084" stroke-width="1.1" />
<line x1="870.90" y1="351.60" x2="878.70" y2="359.40" stroke="#000084" stroke-width="1.1" />
<line x1="870.90" y1="359.40" x2="878.70" y2="351.60" stroke="#000084" stroke-width="1.1" />
<line x1="870.90" y1="374.60" x2="878.70" y2="382.40" stroke="#000084" stroke-width="1.1" />
<line x1="870.90" y1="382.40" x2="878.70" y2="374.60" stroke="#000084" stroke-width="1.1" />
<text x="755.00" y="202.20" fill="#006464" font-size="12.2" textLength="13.40" lengthAdjust="spacingAndGlyphs">U1</text>
<text x="721.70" y="216.50" fill="#006464" font-size="12.2" textLength="80.00" lengthAdjust="spacingAndGlyphs">XIAO-ESP32-C3</text>
<polyline points="882.35,265.31 889.89,265.31 889.89,272.85 897.43,265.31 889.89,257.77 889.89,265.31" fill="none" stroke="#840000" stroke-width="1.1" stroke-linejoin="round" stroke-linecap="round" />
<text x="901.70" y="269.60" fill="#006464" font-size="12.2" textLength="21.30" lengthAdjust="spacingAndGlyphs">GND</text>
<line x1="1010.50" y1="257.77" x2="1010.50" y2="242.69" stroke="#840000" stroke-width="1.1" />
<polyline points="1006.04,250.23 1010.56,242.69 1015.09,250.23" fill="none" stroke="#840000" stroke-width="1.1" stroke-linejoin="round" stroke-linecap="round" />
<text x="997.40" y="239.70" fill="#006464" font-size="12.2" textLength="28.60" lengthAdjust="spacingAndGlyphs">+3V3</text>
<rect x="1063.50" y="220.50" width="90.00" height="203.00" fill="#ffffc2" stroke="#840000" stroke-width="1.2"/>
<circle cx="1116.20" cy="257.90" r="30.70" fill="none" stroke="#840000" stroke-width="1.0"/>
<circle cx="1116.20" cy="385.80" r="31.10" fill="none" stroke="#840000" stroke-width="1.0"/>
<line x1="1040.50" y1="287.50" x2="1063.40" y2="287.50" stroke="#840000" stroke-width="1.1" />
<text x="1071.40" y="291.70" fill="#006464" font-size="12.2" textLength="18.30" lengthAdjust="spacingAndGlyphs">Vcc</text>
<text x="1052.00" y="286.40" fill="#a90000" font-size="12.2" text-anchor="middle">1</text>
<line x1="1040.50" y1="310.50" x2="1063.40" y2="310.50" stroke="#840000" stroke-width="1.1" />
<text x="1071.40" y="314.70" fill="#006464" font-size="12.2" textLength="19.50" lengthAdjust="spacingAndGlyphs">Trig</text>
<text x="1052.00" y="309.40" fill="#a90000" font-size="12.2" text-anchor="middle">2</text>
<line x1="1040.50" y1="333.50" x2="1063.40" y2="333.50" stroke="#840000" stroke-width="1.1" />
<text x="1071.40" y="337.70" fill="#006464" font-size="12.2" textLength="25.60" lengthAdjust="spacingAndGlyphs">Echo</text>
<text x="1052.00" y="332.40" fill="#a90000" font-size="12.2" text-anchor="middle">3</text>
<line x1="1040.50" y1="355.50" x2="1063.40" y2="355.50" stroke="#840000" stroke-width="1.1" />
<text x="1071.40" y="359.70" fill="#006464" font-size="12.2" textLength="20.40" lengthAdjust="spacingAndGlyphs">Gnd</text>
<text x="1052.00" y="354.40" fill="#a90000" font-size="12.2" text-anchor="middle">4</text>
<text x="1080.00" y="201.90" fill="#006464" font-size="12.2" textLength="13.80" lengthAdjust="spacingAndGlyphs">U4</text>
<text x="1080.00" y="214.00" fill="#006464" font-size="12.2" textLength="52.50" lengthAdjust="spacing">HC-SR04</text>
<polyline points="1040.73,355.79 1040.73,363.33 1048.27,363.33 1040.73,370.87 1033.19,363.33 1040.73,363.33" fill="none" stroke="#840000" stroke-width="1.1" stroke-linejoin="round" stroke-linecap="round" />
<text x="1029.80" y="384.20" fill="#006464" font-size="12.2" textLength="21.60" lengthAdjust="spacingAndGlyphs">GND</text>
<line x1="1108.50" y1="491.51" x2="1108.50" y2="476.43" stroke="#840000" stroke-width="1.1" />
<polyline points="1104.08,483.97 1108.60,476.43 1113.13,483.97" fill="none" stroke="#840000" stroke-width="1.1" stroke-linejoin="round" stroke-linecap="round" />
<line x1="1108.50" y1="491.51" x2="1108.50" y2="499.05" stroke="#840000" stroke-width="1.1" />
<polygon points="1108.60,499.05 1102.57,502.82 1108.60,506.59 1114.64,502.82" fill="none" stroke="#840000" stroke-width="1.1" stroke-linejoin="round" stroke-linecap="round" />
<text x="1095.20" y="465.80" fill="#006464" font-size="12.2" textLength="27.90" lengthAdjust="spacingAndGlyphs">+3V3</text>
<text x="1037.70" y="503.00" fill="#006464" font-size="12.2" textLength="54.60" lengthAdjust="spacingAndGlyphs">PWR_FLAG</text>
<line x1="1108.50" y1="559.37" x2="1108.50" y2="551.83" stroke="#840000" stroke-width="1.1" />
<polygon points="1108.60,551.83 1102.57,548.06 1108.60,544.29 1114.64,548.06" fill="none" stroke="#840000" stroke-width="1.1" stroke-linejoin="round" stroke-linecap="round" />
<polyline points="1108.60,559.37 1108.60,566.91 1116.14,566.91 1108.60,574.45 1101.06,566.91 1108.60,566.91" fill="none" stroke="#840000" stroke-width="1.1" stroke-linejoin="round" stroke-linecap="round" />
<text x="1037.70" y="556.00" fill="#006464" font-size="12.2" textLength="54.60" lengthAdjust="spacingAndGlyphs">PWR_FLAG</text>
<text x="1097.90" y="593.60" fill="#006464" font-size="12.2" textLength="21.40" lengthAdjust="spacingAndGlyphs">GND</text>
<line x1="173.34" y1="559.50" x2="188.42" y2="559.50" stroke="#840000" stroke-width="1.1" />
<line x1="233.66" y1="559.50" x2="218.58" y2="559.50" stroke="#840000" stroke-width="1.1" />
<circle cx="191.44" cy="559.50" r="3.22" fill="none" stroke="#840000" stroke-width="1.1"/>
<circle cx="215.56" cy="559.50" r="3.22" fill="none" stroke="#840000" stroke-width="1.1"/>
<line x1="194.45" y1="557.99" x2="212.55" y2="548.94" stroke="#840000" stroke-width="1.1" />
<text x="180.60" y="558.20" fill="#a90000" font-size="12.2" text-anchor="middle">1</text>
<text x="226.20" y="558.20" fill="#a90000" font-size="12.2" text-anchor="middle">2</text>
<text x="192.90" y="525.90" fill="#006464" font-size="12.2" textLength="21.60" lengthAdjust="spacingAndGlyphs">SW2</text>
<text x="170.30" y="541.20" fill="#006464" font-size="12.2" textLength="67.00" lengthAdjust="spacingAndGlyphs">COM POWER</text>
<line x1="143.50" y1="574.50" x2="143.50" y2="595.00" stroke="#840000" stroke-width="1.1" />
<line x1="143.50" y1="618.00" x2="143.50" y2="634.50" stroke="#840000" stroke-width="1.1" />
<line x1="129.00" y1="595.00" x2="157.00" y2="595.00" stroke="#840000" stroke-width="2.0" />
<line x1="134.00" y1="600.00" x2="153.00" y2="600.00" stroke="#840000" stroke-width="4.0" />
<line x1="129.00" y1="613.00" x2="157.00" y2="613.00" stroke="#840000" stroke-width="2.0" />
<line x1="134.00" y1="618.00" x2="153.00" y2="618.00" stroke="#840000" stroke-width="4.0" />
<line x1="143.50" y1="603.45" x2="143.50" y2="604.95" stroke="#840000" stroke-width="1.2" />
<line x1="143.50" y1="606.25" x2="143.50" y2="607.75" stroke="#840000" stroke-width="1.2" />
<line x1="143.50" y1="609.05" x2="143.50" y2="610.55" stroke="#840000" stroke-width="1.2" />
<line x1="132.00" y1="586.50" x2="139.00" y2="586.50" stroke="#840000" stroke-width="1.3" />
<line x1="135.50" y1="583.00" x2="135.50" y2="590.00" stroke="#840000" stroke-width="1.3" />
<text x="78.70" y="598.40" fill="#006464" font-size="12.2" textLength="18.30" lengthAdjust="spacingAndGlyphs">BT2</text>
<text x="76.70" y="615.20" fill="#006464" font-size="12.2" textLength="47.30" lengthAdjust="spacing">006P 9V</text>
<polyline points="196.05,664.93 196.05,672.47 203.59,672.47 196.05,680.01 188.51,672.47 196.05,672.47" fill="none" stroke="#840000" stroke-width="1.1" stroke-linejoin="round" stroke-linecap="round" />
<text x="196.30" y="699.40" fill="#006464" font-size="12.2" text-anchor="middle" textLength="21.40" lengthAdjust="spacingAndGlyphs">GND</text>
<line x1="241.50" y1="574.50" x2="241.50" y2="582.19" stroke="#840000" stroke-width="1.1" />
<rect x="235.50" y="582.50" width="12.00" height="30.00" fill="none" stroke="#840000" stroke-width="1.2"/>
<line x1="241.50" y1="612.15" x2="241.50" y2="664.50" stroke="#840000" stroke-width="1.1" />
<text x="258.00" y="594.30" fill="#006464" font-size="12.2" textLength="13.50" lengthAdjust="spacingAndGlyphs">R1</text>
<text x="258.00" y="609.40" fill="#006464" font-size="12.2" textLength="13.50" lengthAdjust="spacingAndGlyphs">1K</text>
<polygon points="233.96,634.50 249.04,634.50 241.50,649.50" fill="none" stroke="#840000" stroke-width="1.2" stroke-linejoin="round" stroke-linecap="round" />
<line x1="233.96" y1="649.50" x2="249.04" y2="649.50" stroke="#840000" stroke-width="1.2" />
<polyline points="246.02,652.87 255.07,661.91" fill="none" stroke="#840000" stroke-width="1.0" stroke-linejoin="round" stroke-linecap="round" />
<polyline points="255.07,657.39 255.07,661.91 250.55,661.91" fill="none" stroke="#840000" stroke-width="1.0" stroke-linejoin="round" stroke-linecap="round" />
<polyline points="246.02,660.41 255.07,669.45" fill="none" stroke="#840000" stroke-width="1.0" stroke-linejoin="round" stroke-linecap="round" />
<polyline points="255.07,664.93 255.07,669.45 250.55,669.45" fill="none" stroke="#840000" stroke-width="1.0" stroke-linejoin="round" stroke-linecap="round" />
<text x="265.70" y="648.50" fill="#006464" font-size="12.2" textLength="12.50" lengthAdjust="spacingAndGlyphs">D1</text>
<text x="265.70" y="663.40" fill="#006464" font-size="12.2" textLength="18.30" lengthAdjust="spacingAndGlyphs">LED</text>
<polyline points="241.30,664.93 241.30,672.47 248.84,672.47 241.30,680.01 233.76,672.47 241.30,672.47" fill="none" stroke="#840000" stroke-width="1.1" stroke-linejoin="round" stroke-linecap="round" />
<text x="241.30" y="699.40" fill="#006464" font-size="12.2" text-anchor="middle" textLength="21.40" lengthAdjust="spacingAndGlyphs">GND</text>
<line x1="309.50" y1="612.50" x2="309.50" y2="624.00" stroke="#840000" stroke-width="1.1" />
<line x1="309.50" y1="630.00" x2="309.50" y2="642.50" stroke="#840000" stroke-width="1.1" />
<line x1="299.10" y1="624.00" x2="319.00" y2="624.00" stroke="#840000" stroke-width="2.0" />
<line x1="299.10" y1="630.00" x2="319.00" y2="630.00" stroke="#840000" stroke-width="2.0" />
<line x1="429.50" y1="612.50" x2="429.50" y2="624.00" stroke="#840000" stroke-width="1.1" />
<line x1="429.50" y1="630.00" x2="429.50" y2="642.50" stroke="#840000" stroke-width="1.1" />
<line x1="419.10" y1="624.00" x2="439.00" y2="624.00" stroke="#840000" stroke-width="2.0" />
<line x1="419.10" y1="630.00" x2="439.00" y2="630.00" stroke="#840000" stroke-width="2.0" />
<polyline points="309.17,664.93 309.17,672.47 316.71,672.47 309.17,680.01 301.63,672.47 309.17,672.47" fill="none" stroke="#840000" stroke-width="1.1" stroke-linejoin="round" stroke-linecap="round" />
<polyline points="429.84,664.93 429.84,672.47 437.38,672.47 429.84,680.01 422.30,672.47 429.84,672.47" fill="none" stroke="#840000" stroke-width="1.1" stroke-linejoin="round" stroke-linecap="round" />
<text x="325.70" y="624.30" fill="#006464" font-size="12.2" textLength="13.10" lengthAdjust="spacingAndGlyphs">C1</text>
<text x="325.70" y="639.40" fill="#006464" font-size="12.2" textLength="30.30" lengthAdjust="spacingAndGlyphs">0.1uF</text>
<text x="447.70" y="624.30" fill="#006464" font-size="12.2" textLength="13.10" lengthAdjust="spacingAndGlyphs">C2</text>
<text x="447.70" y="639.40" fill="#006464" font-size="12.2" textLength="29.70" lengthAdjust="spacingAndGlyphs">0.1uF</text>
<text x="309.20" y="699.40" fill="#006464" font-size="12.2" text-anchor="middle" textLength="21.40" lengthAdjust="spacingAndGlyphs">GND</text>
<text x="429.80" y="699.40" fill="#006464" font-size="12.2" text-anchor="middle" textLength="21.40" lengthAdjust="spacingAndGlyphs">GND</text>
<rect x="339.50" y="548.50" width="60.00" height="41.00" fill="#ffffc2" stroke="#840000" stroke-width="1.2"/>
<line x1="324.50" y1="559.50" x2="339.50" y2="559.50" stroke="#840000" stroke-width="1.1" />
<line x1="399.80" y1="559.50" x2="414.50" y2="559.50" stroke="#840000" stroke-width="1.1" />
<line x1="369.50" y1="589.40" x2="369.50" y2="604.50" stroke="#840000" stroke-width="1.1" />
<polyline points="369.51,604.61 369.51,612.15 377.05,612.15 369.51,619.69 361.97,612.15 369.51,612.15" fill="none" stroke="#840000" stroke-width="1.1" stroke-linejoin="round" stroke-linecap="round" />
<text x="342.40" y="563.90" fill="#006464" font-size="12.2" textLength="9.60" lengthAdjust="spacingAndGlyphs">VI</text>
<text x="383.00" y="563.90" fill="#006464" font-size="12.2" textLength="13.00" lengthAdjust="spacingAndGlyphs">VO</text>
<text x="369.50" y="579.20" fill="#006464" font-size="12.2" text-anchor="middle" textLength="21.20" lengthAdjust="spacingAndGlyphs" transform="rotate(-90 369.50 575.00)">GND</text>
<text x="332.00" y="558.10" fill="#a90000" font-size="12.2" text-anchor="middle">3</text>
<text x="407.00" y="558.10" fill="#a90000" font-size="12.2" text-anchor="middle">1</text>
<text x="364.30" y="601.20" fill="#a90000" font-size="12.2" text-anchor="middle" transform="rotate(-90 364.30 597.00)">2</text>
<text x="362.60" y="526.00" fill="#006464" font-size="12.2" textLength="13.60" lengthAdjust="spacingAndGlyphs">U5</text>
<text x="349.80" y="541.00" fill="#006464" font-size="12.2" textLength="39.50" lengthAdjust="spacingAndGlyphs">L78L05</text>
<text x="358.80" y="639.40" fill="#006464" font-size="12.2" textLength="21.20" lengthAdjust="spacingAndGlyphs">GND</text>
<line x1="520.50" y1="559.50" x2="565.50" y2="559.50" stroke="#840000" stroke-width="1.1" />
<polygon points="535.50,551.96 535.50,567.04 550.50,559.50" fill="none" stroke="#840000" stroke-width="1.4" stroke-linejoin="round" stroke-linecap="round" />
<line x1="550.50" y1="551.16" x2="550.50" y2="567.04" stroke="#840000" stroke-width="1.3" />
<text x="536.40" y="525.90" fill="#006464" font-size="12.2" textLength="13.30" lengthAdjust="spacingAndGlyphs">D2</text>
<text x="533.00" y="541.20" fill="#006464" font-size="12.2" textLength="20.00" lengthAdjust="spacingAndGlyphs">1S4</text>
</svg>
</body>
</html>
